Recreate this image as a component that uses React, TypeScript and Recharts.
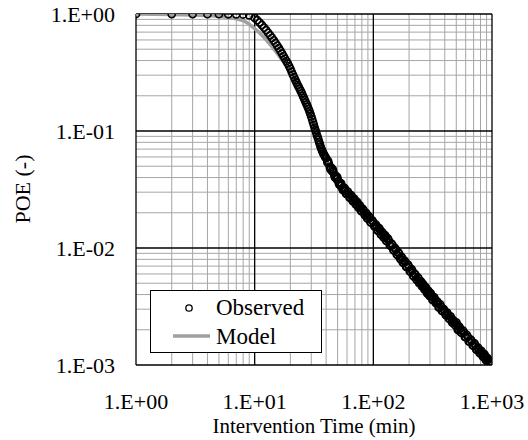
import { ScatterChart, Scatter, XAxis, YAxis, ReferenceLine, Legend, Label } from 'recharts'

// observed POE (intervention time in minutes)
const OBS_X = [1, 2, 3, 4, 5, 6, 7, 8, 9, 10, 11, 12, 13, 14, 15, 16, 17, 18, 19, 20, 21, 22, 23, 24, 25, 26, 27, 28, 29, 30, 31, 32, 33, 34, 35, 36, 37, 38, 39, 40, 41, 42, 43, 44, 45, 46, 47, 48, 49, 50, 51, 52, 53, 54, 55, 56, 57, 58, 60, 62, 64, 66, 68, 70, 72, 74, 76, 78, 80, 83, 86, 88, 90, 93, 96, 100, 104, 107, 110, 114, 117, 120, 124, 127, 130, 135, 140, 145, 150, 155, 160, 165, 170, 175, 180, 186, 192, 200, 206, 213, 220, 227, 234, 240, 247, 254, 260, 267, 274, 280, 288, 295, 300, 310, 320, 330, 340, 350, 360, 372, 385, 400, 412, 426, 440, 455, 470, 480, 495, 510, 520, 540, 560, 580, 600, 625, 650, 675, 700, 725, 750, 775, 800, 825, 850, 875, 900, 925, 950, 975, 1000]
const OBS_Y = [1.0, 0.999, 0.998, 0.997, 0.996, 0.995, 0.993, 0.99, 0.975, 0.925, 0.845, 0.765, 0.69, 0.625, 0.565, 0.51, 0.46, 0.415, 0.378, 0.34, 0.303, 0.273, 0.248, 0.228, 0.21, 0.191, 0.175, 0.161, 0.147, 0.133, 0.119, 0.107, 0.097, 0.088, 0.08, 0.073, 0.068, 0.064, 0.061, 0.0585, 0.054, 0.0532, 0.0493, 0.0488, 0.0452, 0.045, 0.0418, 0.0416, 0.0388, 0.039, 0.0364, 0.0363, 0.034, 0.0343, 0.0322, 0.0326, 0.0309, 0.0313, 0.0291, 0.029, 0.027, 0.0273, 0.0252, 0.0255, 0.0237, 0.0239, 0.0221, 0.0224, 0.0207, 0.0209, 0.019, 0.0193, 0.0179, 0.0181, 0.0165, 0.0166, 0.0152, 0.0152, 0.0141, 0.0142, 0.013, 0.0134, 0.0122, 0.0125, 0.0115, 0.0116, 0.0104, 0.0106, 0.0095, 0.0097, 0.0087, 0.0089, 0.008, 0.0082, 0.0075, 0.0076, 0.0069, 0.0069, 0.0063, 0.0064, 0.0057, 0.0059, 0.0053, 0.0055, 0.005, 0.0051, 0.0047, 0.00475, 0.0044, 0.00445, 0.0041, 0.00415, 0.0039, 0.0039, 0.0036, 0.00365, 0.00338, 0.0034, 0.00312, 0.00316, 0.00288, 0.00288, 0.00266, 0.00268, 0.00246, 0.00249, 0.0023, 0.00235, 0.00217, 0.00219, 0.00204, 0.00205, 0.00188, 0.00189, 0.00173, 0.00174, 0.00158, 0.0016, 0.00146, 0.00147, 0.00135, 0.00136, 0.00126, 0.00127, 0.00118, 0.00119, 0.0011, 0.00111, 0.00104, 0.00105, 0.00101]

// half-minute observations in the steep part
const OBS_HALF_X = [10.5, 11.5, 12.5, 13.5, 14.5, 15.5, 16.5, 17.5, 18.5, 19.5, 20.5, 21.5, 22.5, 23.5, 24.5, 25.5, 26.5, 27.5, 28.5, 29.5, 30.5, 31.5, 32.5, 33.5, 34.5, 35.5, 36.5, 37.5, 38.5, 39.5]
const OBS_HALF_Y = [0.885, 0.805, 0.727, 0.657, 0.595, 0.537, 0.485, 0.437, 0.396, 0.359, 0.321, 0.288, 0.26, 0.238, 0.219, 0.2, 0.183, 0.168, 0.154, 0.14, 0.126, 0.113, 0.102, 0.092, 0.084, 0.0765, 0.0705, 0.066, 0.0625, 0.0595]

// further observations filling the dense tail
const OBS_TAIL_X = [41.5, 43.5, 45.5, 47.5, 49.5, 51.5, 53.5, 55.5, 57.5, 59, 61, 63, 65, 67, 69, 71, 73, 75, 77, 79, 81.5, 84.5, 87, 89, 91.5, 94.5, 98, 102, 105.5, 108.5, 112, 115.5, 118.5, 122, 125.5, 128.5, 132.5, 137.5, 142.5, 147.5, 152.5, 157.5, 162.5, 167.5, 172.5, 177.5, 183, 189, 196, 203, 209.5, 216.5, 223.5, 230.5, 237, 243.5, 250.5, 257, 263.5, 270.5, 277, 284, 291.5, 297.5, 305, 315, 325, 335, 345, 355, 366, 378.5, 392.5, 406, 419, 433, 447.5, 462.5, 475, 487.5, 502.5, 515, 530, 550, 570, 590, 612.5, 637.5, 662.5, 687.5, 712.5, 737.5, 762.5, 787.5, 812.5, 837.5, 862.5, 887.5, 912.5, 937.5, 962.5, 987.5]
const OBS_TAIL_Y = [0.0556, 0.047, 0.047, 0.0401, 0.0405, 0.035, 0.0356, 0.0312, 0.0324, 0.029, 0.0303, 0.027, 0.0283, 0.0252, 0.0264, 0.0236, 0.0248, 0.0221, 0.0231, 0.0207, 0.0216, 0.0192, 0.02, 0.0179, 0.0187, 0.0166, 0.0172, 0.0153, 0.0158, 0.0141, 0.0148, 0.0131, 0.0137, 0.0123, 0.0129, 0.0115, 0.0121, 0.0106, 0.0109, 0.0096, 0.01, 0.0088, 0.0092, 0.0082, 0.0084, 0.0075, 0.0078, 0.0069, 0.0072, 0.0063, 0.0066, 0.0058, 0.006, 0.0054, 0.0056, 0.005, 0.0052, 0.0047, 0.0049, 0.0044, 0.0046, 0.0041, 0.0043, 0.0039, 0.0041, 0.0036, 0.0038, 0.0034, 0.0035, 0.0031, 0.0033, 0.0029, 0.003, 0.0027, 0.0028, 0.0025, 0.0026, 0.0023, 0.0024, 0.0022, 0.0023, 0.002, 0.00213, 0.00189, 0.00197, 0.00174, 0.00181, 0.00159, 0.00165, 0.00147, 0.00153, 0.00135, 0.00141, 0.00126, 0.00132, 0.00118, 0.00124, 0.0011, 0.00115, 0.00104, 0.00108, 0.00104]

// fitted model
const MODEL_X = [1, 2, 3, 4, 5, 6, 7, 8, 9, 10, 11, 12, 13, 14, 15, 16, 17, 18, 20, 22, 25, 28, 30, 33, 36, 40, 45, 50, 55, 60, 70, 80, 100, 120, 150, 200, 250, 300, 400, 500, 600, 700, 800, 900, 1000]
const MODEL_Y = [1.0, 0.99, 0.98, 0.97, 0.955, 0.935, 0.91, 0.88, 0.82, 0.75, 0.69, 0.63, 0.575, 0.525, 0.48, 0.44, 0.405, 0.38, 0.335, 0.275, 0.208, 0.16, 0.133, 0.098, 0.073, 0.058, 0.046, 0.0385, 0.0328, 0.0297, 0.025, 0.0212, 0.0162, 0.0131, 0.0098, 0.0067, 0.0051, 0.004, 0.00282, 0.00218, 0.00178, 0.0015, 0.00129, 0.00113, 0.00099]

const X_DECADES = [1, 10, 100, 1000]
const Y_DECADES = [0.001, 0.01, 0.1, 1]
const MINOR_STEPS = [2, 3, 4, 5, 6, 7, 8, 9]

const FONT = '"Liberation Serif", "Times New Roman", serif'
const MINOR_GRID = '#a6a6a6'
const MODEL_GRAY = '#a0a0a0'

const observed = [
  ...OBS_X.map((x, i) => ({ x, y: OBS_Y[i] })),
  ...OBS_HALF_X.map((x, i) => ({ x, y: OBS_HALF_Y[i] })),
  ...OBS_TAIL_X.map((x, i) => ({ x, y: OBS_TAIL_Y[i] })),
]
const model = MODEL_X.map((x, i) => ({ x, y: MODEL_Y[i] }))

const minorX = X_DECADES.slice(0, -1).flatMap((d) => MINOR_STEPS.map((m) => d * m))
const minorY = Y_DECADES.slice(0, -1).flatMap((d) => MINOR_STEPS.map((m) => d * m))

const sciFormat = (v: number) => {
  const e = Math.round(Math.log10(v))
  return `1.E${e < 0 ? '-' : '+'}${String(Math.abs(e)).padStart(2, '0')}`
}

const renderLegend = () => (
  <svg width={172} height={63} style={{ display: 'block' }}>
    <rect x={0.5} y={0.5} width={171} height={62} fill="#fff" stroke="#000" strokeWidth={1} />
    <circle cx={39} cy={18} r={3.2} fill="none" stroke="#000" strokeWidth={1.3} />
    <line x1={23} y1={46} x2={60} y2={46} stroke={MODEL_GRAY} strokeWidth={3.5} />
    <text x={66} y={25} fontSize={23} fontFamily={FONT} fill="#000">Observed</text>
    <text x={66} y={54} fontSize={23} fontFamily={FONT} fill="#000">Model</text>
  </svg>
)

const circleShape = (p: any) => (
  <circle cx={p.cx} cy={p.cy} r={3.6} fill="none" stroke="#000" strokeWidth={1.6} />
)

export default function App() {
  return (
    <div style={{ position: 'absolute', left: 0, top: 0, background: '#fff', fontFamily: FONT }}>
      <ScatterChart width={528} height={440} margin={{ top: 14, right: 36, bottom: 0, left: 0 }}>
        <XAxis
          type="number"
          dataKey="x"
          scale="log"
          domain={[1, 1000]}
          allowDataOverflow
          ticks={X_DECADES}
          tickFormatter={sciFormat}
          axisLine={false}
          tickLine={false}
          tickMargin={22}
          height={75}
          tick={{ fill: '#000', fontSize: 22, fontFamily: FONT }}
        >
          <Label value="Intervention Time (min)" position="insideBottom" offset={7} fill="#000" fontSize={21} fontFamily={FONT} />
        </XAxis>
        <YAxis
          type="number"
          dataKey="y"
          scale="log"
          domain={[0.001, 1]}
          allowDataOverflow
          ticks={Y_DECADES}
          tickFormatter={sciFormat}
          axisLine={false}
          tickLine={false}
          tickMargin={15}
          width={136}
          tick={{ fill: '#000', fontSize: 22, fontFamily: FONT }}
        >
          <Label
            content={() => (
              <text transform="translate(30,189) rotate(-90)" textAnchor="middle" fontSize={22} fontFamily={FONT} fill="#000">
                POE (-)
              </text>
            )}
          />
        </YAxis>

        {minorX.map((v) => (
          <ReferenceLine key={`mx${v}`} x={v} stroke={MINOR_GRID} strokeWidth={1} />
        ))}
        {minorY.map((v) => (
          <ReferenceLine key={`my${v}`} y={v} stroke={MINOR_GRID} strokeWidth={1} />
        ))}
        {X_DECADES.map((v) => (
          <ReferenceLine key={`Mx${v}`} x={v} stroke="#000" strokeWidth={1.3} />
        ))}
        {Y_DECADES.map((v) => (
          <ReferenceLine key={`My${v}`} y={v} stroke="#000" strokeWidth={1.3} />
        ))}

        <Scatter
          name="Model"
          data={model}
          line={{ stroke: MODEL_GRAY, strokeWidth: 3.5 }}
          lineType="joint"
          shape={() => <g />}
          isAnimationActive={false}
        />
        <Scatter name="Observed" data={observed} shape={circleShape} isAnimationActive={false} />

        <Legend
          content={renderLegend}
          layout="vertical"
          align="center"
          verticalAlign="middle"
          wrapperStyle={{ left: 150, top: 290, width: 172, height: 63 }}
        />
      </ScatterChart>
    </div>
  )
}
